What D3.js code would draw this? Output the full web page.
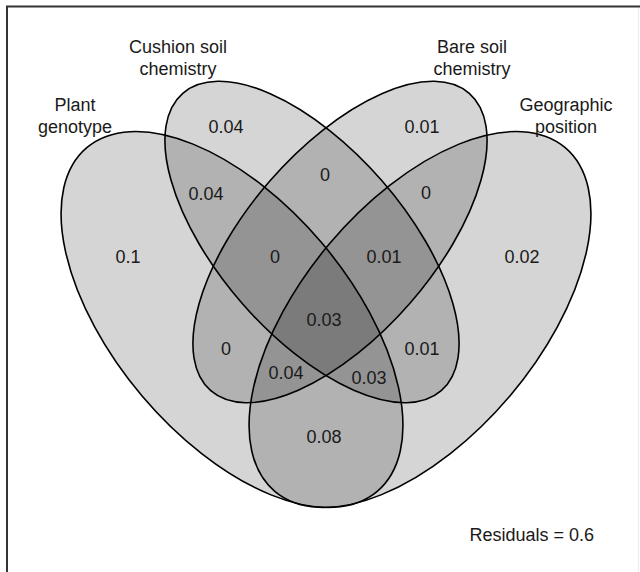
<!DOCTYPE html>
<html>
<head>
<meta charset="utf-8">
<script src="https://cdn.jsdelivr.net/npm/d3@7"></script>
<style>
  body { margin: 0; background: #fff; }
  svg { display: block; }
  text { font-family: "Liberation Sans", Arial, sans-serif; fill: #1a1a1a; }
</style>
</head>
<body>
<svg id="venn" width="640" height="572"></svg>
<script>
// explanatory sets, in drawing order
const setNames = ["Plant genotype", "Cushion soil chemistry", "Bare soil chemistry", "Geographic position"];
const setLabelLines = [["Plant", "genotype"], ["Cushion soil", "chemistry"], ["Bare soil", "chemistry"], ["Geographic", "position"]];

// fractions (adjusted R2) of each region, by set membership (P C B G)
const regions = ["P", "C", "B", "G", "CB", "PC", "BG", "PCB", "CBG", "PCBG", "PB", "CG", "PBG", "PCG", "PG"];
const fractions = [0.1, 0.04, 0.01, 0.02, 0, 0.04, 0, 0, 0.01, 0.03, 0, 0.01, 0.04, 0.03, 0.08];
const residuals = 0.6;

// layout (plot units, origin on the symmetry axis)
const ellipseLayout = [
  {cx: -94, cy: 319.5, a: 225, b: 118, rot: 49.8},
  {cx: -14, cy: 242, a: 197, b: 93, rot: 49},
  {cx: 14, cy: 242, a: 197, b: 93, rot: -49},
  {cx: 94, cy: 319.5, a: 225, b: 118, rot: -49.8}
];
const setLabelPos = [[-251, 105], [-148, 47], [146, 47], [240, 105]];
const regionPos = [[-198, 257], [-100, 127], [96, 127], [196, 257], [-1, 175], [-120, 194], [100, 193],
                   [-51, 257], [58, 257], [-2, 320], [-100, 349], [96, 349], [-40, 373], [43, 378], [-2, 437]];

const svg = d3.select("#venn");
const W = +svg.attr("width"), H = +svg.attr("height");

const x = d3.scaleLinear().domain([-326, 314]).range([0, W]);
const y = d3.scaleLinear().domain([0, 572]).range([0, H]);
const fmt = d => String(+d.toFixed(2));
const fs = 18;

// frame (bottom edge cut off in the original)
svg.append("path")
  .attr("d", "M7,572 V6.5 H640")
  .attr("fill", "none").attr("stroke", "#333").attr("stroke-width", 2);
svg.append("line")
  .attr("x1", 638.5).attr("x2", 638.5).attr("y1", 8).attr("y2", 572)
  .attr("stroke", "#ececec").attr("stroke-width", 1);

const g = svg.append("g");

// translucent fills first, outlines on top
g.selectAll("ellipse.fill")
  .data(ellipseLayout)
  .join("ellipse")
  .attr("class", "fill")
  .attr("rx", d => d.a).attr("ry", d => d.b)
  .attr("transform", d => `translate(${x(d.cx)},${y(d.cy)}) rotate(${d.rot})`)
  .attr("fill", "#000").attr("fill-opacity", 0.165)
  .attr("stroke", "none");

g.selectAll("ellipse.edge")
  .data(ellipseLayout)
  .join("ellipse")
  .attr("class", "edge")
  .attr("rx", d => d.a).attr("ry", d => d.b)
  .attr("transform", d => `translate(${x(d.cx)},${y(d.cy)}) rotate(${d.rot})`)
  .attr("fill", "none")
  .attr("stroke", "#000").attr("stroke-width", 1.6);

// region fractions
g.selectAll("text.frac")
  .data(fractions)
  .join("text")
  .attr("class", "frac")
  .attr("x", (d, i) => x(regionPos[i][0]))
  .attr("y", (d, i) => y(regionPos[i][1]))
  .attr("dy", "0.35em")
  .attr("text-anchor", "middle")
  .attr("font-size", fs)
  .text(fmt);

// set names, two lines each
setLabelLines.forEach((lines, i) => {
  const t = g.append("text")
    .attr("text-anchor", "middle")
    .attr("font-size", fs)
    .attr("aria-label", setNames[i]);
  lines.forEach((s, k) => {
    t.append("tspan")
      .attr("x", x(setLabelPos[i][0]))
      .attr("y", y(setLabelPos[i][1] + k * 22))
      .attr("dy", "0.35em")
      .text(s);
  });
});

svg.append("text")
  .attr("x", 594).attr("y", y(535))
  .attr("dy", "0.35em")
  .attr("text-anchor", "end")
  .attr("font-size", fs)
  .text("Residuals = " + residuals);
</script>
</body>
</html>
